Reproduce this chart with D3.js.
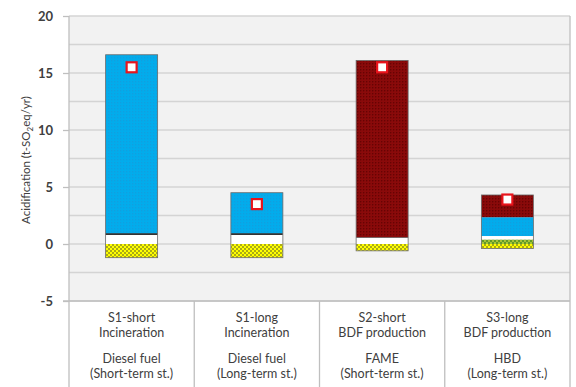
<!DOCTYPE html>
<html>
<head>
<meta charset="utf-8">
<script src="https://cdn.jsdelivr.net/npm/d3@7"></script>
<style>
  html, body { margin: 0; padding: 0; background: #fff; }
  svg { display: block; font-family: Lato, "Open Sans", sans-serif; }
</style>
</head>
<body>
<svg id="chart" width="576" height="387"></svg>
<script>
// Category label rows (four lines under each bar)
const scenarios = ["S1-short", "S1-long", "S2-short", "S3-long"];
const processes = ["Incineration", "Incineration", "BDF production", "BDF production"];
const fuels = ["Diesel fuel", "Diesel fuel", "FAME", "HBD"];
const storage = ["(Short-term st.)", "(Long-term st.)", "(Short-term st.)", "(Long-term st.)"];

// Stacked contributions (t-SO2eq/yr), bottom to top
const greenVals  = [0, 0, 0, 0.4];
const whiteVals  = [0.8, 0.8, 0.55, 0.3];
const blackVals  = [0.15, 0.15, 0.05, 0];
const blueVals   = [15.65, 3.55, 0, 1.65];
const redVals    = [0, 0, 15.5, 1.95];
const yellowVals = [-1.2, -1.2, -0.6, -0.4];
// Net total per scenario
const netVals = [15.5, 3.5, 15.5, 3.9];

const yTicks = [-5, 0, 5, 10, 15, 20];
const yGrid = [-5, -2.5, 0, 2.5, 5, 7.5, 10, 12.5, 15, 17.5, 20];

const seriesKeys = ["green", "white", "black", "blue", "red", "yellow"];
const rows = scenarios.map((s, i) => ({
  cat: s,
  green: greenVals[i], white: whiteVals[i], black: blackVals[i],
  blue: blueVals[i], red: redVals[i], yellow: yellowVals[i]
}));

const svg = d3.select("#chart");
const plotL = 69, plotR = 570, plotT = 16, plotB = 301, H = 387;

const x = d3.scaleBand().domain(scenarios).range([plotL, plotR]).padding(0);
const y = d3.scaleLinear().domain([-5, 20]).range([plotB, plotT]);

// Fill patterns
const defs = svg.append("defs");
function dotPattern(id, bg, dot, size, r, offset) {
  const p = defs.append("pattern").attr("id", id)
    .attr("patternUnits", "userSpaceOnUse").attr("width", size).attr("height", size);
  p.append("rect").attr("width", size).attr("height", size).attr("fill", bg);
  p.append("circle").attr("cx", size / 4).attr("cy", size / 4).attr("r", r).attr("fill", dot);
  if (offset) p.append("circle").attr("cx", size * 3 / 4).attr("cy", size * 3 / 4).attr("r", r).attr("fill", dot);
  return `url(#${id})`;
}
const fills = {
  green: dotPattern("pGreen", "#5f9a2a", "#c9d63a", 4, 0.9, true),
  white: "#ffffff",
  black: "#1a1a1a",
  blue: dotPattern("pBlue", "#02acec", "#1f92d2", 3, 0.6, false),
  red: dotPattern("pRed", "#8a0a0a", "#5c0000", 3, 0.7, false),
  yellow: dotPattern("pYellow", "#ffff00", "#8f8f1e", 4, 1.0, true)
};

// Plot background
svg.append("rect").attr("x", plotL).attr("y", plotT)
  .attr("width", plotR - plotL).attr("height", plotB - plotT).attr("fill", "#f2f2f2");

// Gridlines
svg.append("g").selectAll("line").data(yGrid).join("line")
  .attr("x1", plotL).attr("x2", plotR)
  .attr("y1", d => y(d)).attr("y2", d => y(d))
  .attr("stroke", "#d4d4d4").attr("stroke-width", 1.3);

// Y axis with major ticks (plain hyphen for negatives)
const yAxis = d3.axisLeft(y).tickValues(yTicks).tickSize(6).tickPadding(10).tickFormat(d => String(d));
const ya = svg.append("g").attr("transform", `translate(${plotL},0)`).call(yAxis);
ya.select(".domain").remove();
ya.selectAll(".tick line").attr("stroke", "#bfbfbf").attr("stroke-width", 1.3);
ya.selectAll(".tick text").attr("fill", "#404040").attr("font-size", 13).attr("font-weight", 700)
  .attr("font-family", "Lato, sans-serif");

// Stacked bars
const stack = d3.stack().keys(seriesKeys).offset(d3.stackOffsetDiverging);
const layers = stack(rows);
const bw = 52;
svg.append("g").selectAll("g").data(layers).join("g")
  .attr("fill", d => fills[d.key])
  .selectAll("rect").data(d => d).join("rect")
  .attr("x", d => x(d.data.cat) + x.bandwidth() / 2 - bw / 2)
  .attr("width", bw)
  .attr("y", d => y(Math.max(d[0], d[1])))
  .attr("height", d => Math.abs(y(d[0]) - y(d[1])));

// Bar outlines
const posTop = rows.map(r => seriesKeys.filter(k => r[k] > 0).reduce((a, k) => a + r[k], 0));
svg.append("g").selectAll("rect").data(rows).join("rect")
  .attr("x", d => x(d.cat) + x.bandwidth() / 2 - bw / 2)
  .attr("width", bw)
  .attr("y", (d, i) => y(posTop[i]))
  .attr("height", (d, i) => y(yellowVals[i]) - y(posTop[i]))
  .attr("fill", "none").attr("stroke", "#6b6b6b").attr("stroke-width", 0.8);

// Net total markers
svg.append("g").selectAll("rect").data(netVals).join("rect")
  .attr("x", (d, i) => x(scenarios[i]) + x.bandwidth() / 2 - 5)
  .attr("y", d => y(d) - 5)
  .attr("width", 10).attr("height", 10)
  .attr("fill", "#ffffff").attr("stroke", "#e8141c").attr("stroke-width", 2.2);

// Frame: axis line at the bottom, left and right verticals through the label table
svg.append("line").attr("x1", plotL - 6).attr("x2", plotR).attr("y1", plotB).attr("y2", plotB)
  .attr("stroke", "#bfbfbf").attr("stroke-width", 1.3);
[plotL, plotR].forEach(xx => svg.append("line")
  .attr("x1", xx).attr("x2", xx).attr("y1", plotT).attr("y2", H)
  .attr("stroke", "#bfbfbf").attr("stroke-width", 1.3));
// Category separators
svg.append("g").selectAll("line").data(scenarios.slice(1)).join("line")
  .attr("x1", d => x(d)).attr("x2", d => x(d)).attr("y1", plotB).attr("y2", H)
  .attr("stroke", "#bfbfbf").attr("stroke-width", 1.3);

// Category labels
const labelRows = [[scenarios, 322], [processes, 337], [fuels, 363], [storage, 378]];
labelRows.forEach(([arr, yy]) => {
  svg.append("g").selectAll("text").data(arr).join("text")
    .attr("x", (d, i) => x(scenarios[i]) + x.bandwidth() / 2)
    .attr("y", yy)
    .attr("text-anchor", "middle")
    .attr("font-size", 12.5).attr("fill", "#404040")
    .text(d => d);
});

// Y axis title
const title = svg.append("text")
  .attr("transform", "translate(30,160) rotate(-90)")
  .attr("text-anchor", "middle").attr("font-size", 11.5).attr("fill", "#404040");
title.append("tspan").text("Acidification (t-SO");
title.append("tspan").attr("font-size", 8).attr("dy", 3).text("2");
title.append("tspan").attr("dy", -3).text("eq/yr)");
</script>
</body>
</html>
